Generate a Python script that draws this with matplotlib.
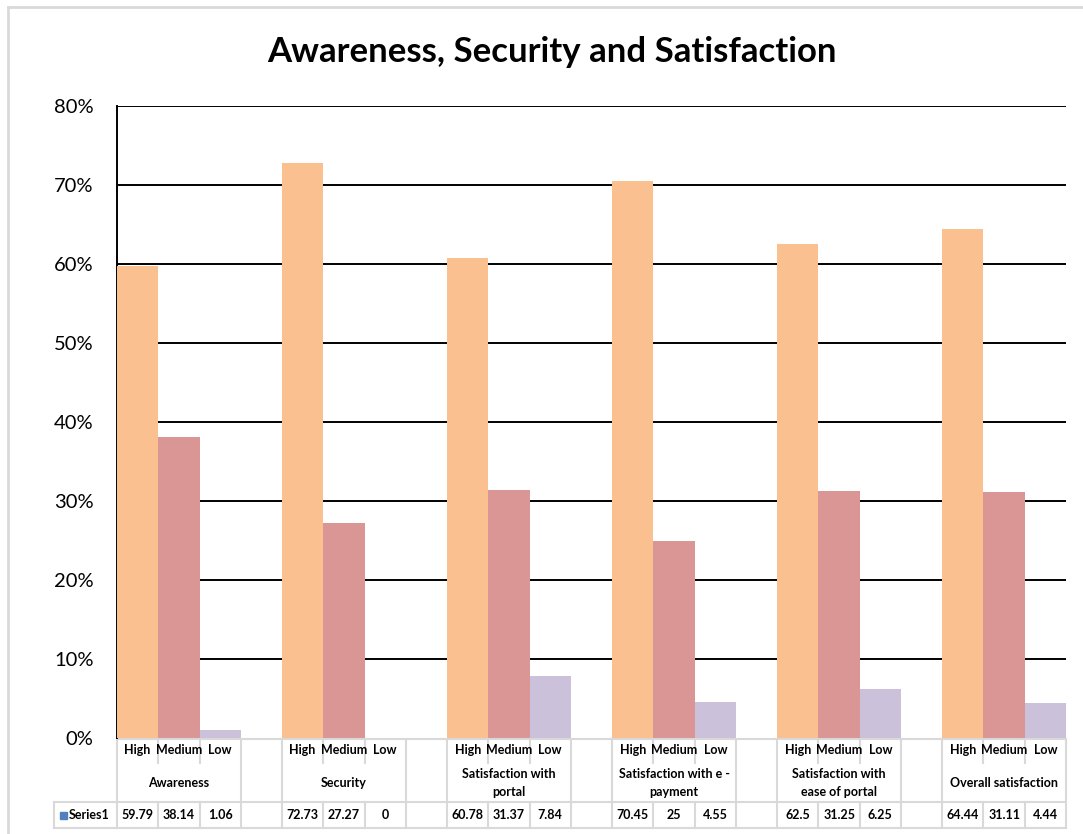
import matplotlib.pyplot as plt
from matplotlib.transforms import blended_transform_factory
from matplotlib.lines import Line2D
from matplotlib.patches import Rectangle

# data
groups = ["Awareness", "Security", "Satisfaction with\nportal",
          "Satisfaction with e -\npayment", "Satisfaction with\nease of portal",
          "Overall satisfaction"]
levels = ["High", "Medium", "Low"]
high = [59.79, 72.73, 60.78, 70.45, 62.5, 64.44]
medium = [38.14, 27.27, 31.37, 25, 31.25, 31.11]
low = [1.06, 0, 7.84, 4.55, 6.25, 4.44]
yticks = [0, 10, 20, 30, 40, 50, 60, 70, 80]

colors = ["#FAC090", "#D99694", "#CCC1DA"]
grid_col = "#D9D9D9"
plt.rcParams['font.family'] = ['Lato', 'DejaVu Sans']

W, H = 1083, 834
fig = plt.figure(figsize=(W / 100, H / 100), dpi=100)
ax = fig.add_axes([117 / W, 1 - 738 / H, (1066 - 117) / W, (738 - 106) / H])

# outer chart border (left and top only visible)
fig.add_artist(Line2D([8 / W, 8 / W], [0, 1 - 7 / H], color=grid_col, lw=2, transform=fig.transFigure))
fig.add_artist(Line2D([8 / W, 1], [1 - 7 / H, 1 - 7 / H], color=grid_col, lw=2, transform=fig.transFigure))

n_slots = len(groups) * 4 - 1
series = [high, medium, low]
for g in range(len(groups)):
    for k, vals in enumerate(series):
        ax.bar(4 * g + k + 0.5, vals[g], width=1.0, color=colors[k], zorder=3)

ax.set_xlim(0, n_slots)
ax.set_ylim(0, 80)
ax.set_yticks(yticks)
ax.set_yticklabels([f"{t}%" for t in yticks], fontsize=14.5)
ax.tick_params(axis='y', length=0, pad=17)
ax.tick_params(axis='x', length=0, labelbottom=False)
for t in yticks[1:]:
    ax.axhline(t, color='black', lw=1.4, zorder=2)
for s in ['top', 'right', 'bottom']:
    ax.spines[s].set_visible(False)
ax.spines['left'].set_linewidth(1.4)

fig.text(552 / W, 1 - 52 / H, "Awareness, Security and Satisfaction",
         ha='center', va='center', fontsize=25, fontweight='bold')

# data table below the axis
tr = blended_transform_factory(ax.transData, ax.transAxes)
ph = 738 - 106
def ya(ypix):
    return (738 - ypix) / ph

y_top, y_lvl, y_row, y_bot = ya(739), ya(763), ya(802), ya(828)
x_left = (54 - 117) / (1066 - 117) * n_slots

def tline(xs, ys, lw=1.5):
    ax.plot(xs, ys, color=grid_col, lw=lw, transform=tr, clip_on=False, zorder=1)

tline([0, n_slots], [y_top, y_top])
tline([x_left, n_slots], [y_row, y_row])
tline([x_left, n_slots], [y_bot, y_bot])
tline([x_left, x_left], [y_row, y_bot])
for x in range(n_slots + 1):
    if x % 4 in (1, 2):
        tline([x, x], [y_top, y_lvl])
        tline([x, x], [y_row, y_bot])
    else:
        tline([x, x], [y_top, y_bot])

fs = 9
for g in range(len(groups)):
    for k, vals in enumerate(series):
        xc = 4 * g + k + 0.5
        ax.text(xc, ya(750), levels[k], transform=tr, ha='center', va='center',
                fontsize=fs, fontweight='bold')
        ax.text(xc, ya(815), f"{vals[g]:g}", transform=tr, ha='center', va='center',
                fontsize=fs, fontweight='bold')
    ax.text(4 * g + 1.5, ya(783), groups[g], transform=tr, ha='center', va='center',
            fontsize=fs, fontweight='bold', linespacing=1.5)

# legend key for the table row
fig.add_artist(Rectangle((60 / W, 1 - 819 / H), 7 / W, 7 / H, color="#4F81BD",
                         transform=fig.transFigure))
fig.text(69 / W, 1 - 815 / H, "Series1", ha='left', va='center', fontsize=fs, fontweight='bold')

fig.savefig("out.png", dpi=100)
